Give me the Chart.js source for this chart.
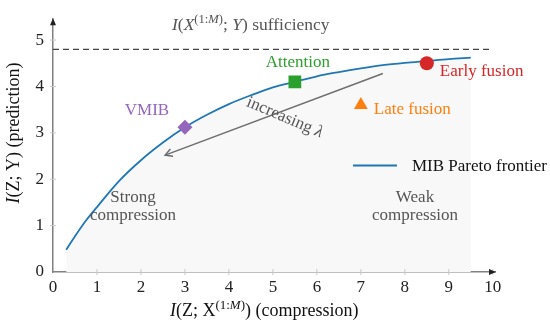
<!DOCTYPE html>
<html>
<head>
<meta charset="utf-8">
<script src="https://cdn.jsdelivr.net/npm/chart.js@4.4.1/dist/chart.umd.min.js"></script>
<style>
html,body{margin:0;padding:0;background:#fff;}
#wrap{width:550px;height:331px;}
</style>
</head>
<body>
<div id="wrap"><canvas id="c" width="550" height="331"></canvas></div>
<script>
// ---- data ----
const frontierX = [0.3,0.5,0.75,1,1.5,2,2.5,3,3.5,4,4.5,5,5.5,6,6.5,7,7.5,8,8.5,9,9.5];
const frontierY = [0.48,0.77,1.11,1.40,1.96,2.41,2.79,3.12,3.39,3.62,3.81,3.98,4.10,4.22,4.31,4.39,4.46,4.51,4.55,4.59,4.62];
const sufficiencyX = [0, 10];
const sufficiencyY = [4.8, 4.8];
const methodNames = ["VMIB", "Attention", "Early fusion", "Late fusion"];
const methodX = [3.0, 5.5, 8.5, 7.0];
const methodY = [3.12, 4.10, 4.50, 3.60];
const arrowX = [7.5, 2.55];
const arrowY = [4.28, 2.52];
const xTicks = [0,1,2,3,4,5,6,7,8,9,10];
const yTicks = [0,1,2,3,4,5];
const legendLabel = "MIB Pareto frontier";

const SERIF = '"Liberation Serif", "DejaVu Serif", serif';
const methodColors = ['#9467bd', '#2ca02c', '#d62728', '#ff7f0e'];
const methodStyles = ['rectRot', 'rect', 'circle', 'triangle'];
const methodRadius = [7.5, 9, 7, 8];

function drawRich(ctx, segs, x, y, size, color, align) {
  const parts = segs.map(s => {
    const fs = s.sup ? size * 0.72 : size;
    const font = (s.it ? 'italic ' : '') + fs + 'px ' + SERIF;
    ctx.font = font;
    return {t: s.t, font, w: ctx.measureText(s.t).width, dy: s.sup ? -size * 0.38 : 0};
  });
  const total = parts.reduce((a, p) => a + p.w, 0);
  let cx = align === 'center' ? x - total / 2 : x;
  ctx.fillStyle = color;
  ctx.textBaseline = 'alphabetic';
  ctx.textAlign = 'left';
  parts.forEach(p => { ctx.font = p.font; ctx.fillText(p.t, cx, y + p.dy); cx += p.w; });
}

const deco = {
  id: 'deco',
  afterDraw(chart) {
    const ctx = chart.ctx;
    const xs = chart.scales.x, ys = chart.scales.y;
    const a = chart.chartArea;
    ctx.save();
    // tick marks
    ctx.strokeStyle = '#c8c8c8'; ctx.lineWidth = 1;
    xTicks.forEach(v => { if (v === 0) return; const px = xs.getPixelForValue(v); ctx.beginPath(); ctx.moveTo(px, a.bottom - 3); ctx.lineTo(px, a.bottom + 3); ctx.stroke(); });
    yTicks.forEach(v => { if (v === 0) return; const py = ys.getPixelForValue(v); ctx.beginPath(); ctx.moveTo(a.left - 3, py); ctx.lineTo(a.left + 3, py); ctx.stroke(); });
    // axis arrowheads
    ctx.fillStyle = '#222';
    ctx.beginPath(); ctx.moveTo(a.left, a.top - 1); ctx.lineTo(a.left - 3, a.top + 6); ctx.lineTo(a.left + 3, a.top + 6); ctx.closePath(); ctx.fill();
    ctx.beginPath(); ctx.moveTo(a.right + 1, a.bottom); ctx.lineTo(a.right - 6, a.bottom - 3); ctx.lineTo(a.right - 6, a.bottom + 3); ctx.closePath(); ctx.fill();

    // increasing lambda arrow
    const x0 = xs.getPixelForValue(arrowX[0]), y0 = ys.getPixelForValue(arrowY[0]);
    const x1 = xs.getPixelForValue(arrowX[1]), y1 = ys.getPixelForValue(arrowY[1]);
    ctx.strokeStyle = '#6e6e6e'; ctx.lineWidth = 1.5;
    ctx.beginPath(); ctx.moveTo(x0, y0); ctx.lineTo(x1, y1); ctx.stroke();
    const ang = Math.atan2(y1 - y0, x1 - x0);
    ctx.beginPath();
    ctx.moveTo(x1 + 8 * Math.cos(ang + Math.PI - 0.5), y1 + 8 * Math.sin(ang + Math.PI - 0.5));
    ctx.lineTo(x1, y1);
    ctx.lineTo(x1 + 8 * Math.cos(ang + Math.PI + 0.5), y1 + 8 * Math.sin(ang + Math.PI + 0.5));
    ctx.stroke();
    ctx.save();
    ctx.translate(285, 117); ctx.rotate(23 * Math.PI / 180);
    drawRich(ctx, [{t: 'increasing '}, {t: 'λ', it: true}], 0, 5, 17, '#555', 'center');
    ctx.restore();

    // method labels
    const offs = [[-38, -12, 'center'], [3, -15, 'center'], [13, 13, 'left'], [13, 9, 'left']];
    methodNames.forEach((n, i) => {
      const px = xs.getPixelForValue(methodX[i]), py = ys.getPixelForValue(methodY[i]);
      ctx.font = '17px ' + SERIF; ctx.fillStyle = methodColors[i];
      ctx.textAlign = offs[i][2]; ctx.textBaseline = 'alphabetic';
      ctx.fillText(n, px + offs[i][0], py + offs[i][1]);
    });

    // region labels
    ctx.font = '17px ' + SERIF; ctx.fillStyle = '#555'; ctx.textAlign = 'center';
    ctx.fillText('Strong', 133, 202); ctx.fillText('compression', 133, 220);
    ctx.fillText('Weak', 415, 202); ctx.fillText('compression', 415, 220);

    // sufficiency label
    drawRich(ctx, [{t: 'I', it: true}, {t: '('}, {t: 'X', it: true}, {t: '(1:', sup: true}, {t: 'M', it: true, sup: true}, {t: ')', sup: true}, {t: '; '}, {t: 'Y', it: true}, {t: ') sufficiency'}], 172, 30, 17.5, '#555', 'left');

    // legend
    ctx.strokeStyle = '#1f77b4'; ctx.lineWidth = 1.8;
    ctx.beginPath(); ctx.moveTo(353, 165.5); ctx.lineTo(397, 165.5); ctx.stroke();
    ctx.font = '17px ' + SERIF; ctx.fillStyle = '#111'; ctx.textAlign = 'left';
    ctx.fillText(chart.data.datasets[0].label, 412, 171);

    // axis titles
    drawRich(ctx, [{t: 'I', it: true}, {t: '(Z; X'}, {t: '(1:', sup: true}, {t: 'M', it: true, sup: true}, {t: ')', sup: true}, {t: ') (compression)'}], 170, 316, 18, '#111', 'left');
    ctx.save();
    ctx.translate(19, 133); ctx.rotate(-Math.PI / 2);
    drawRich(ctx, [{t: 'I', it: true}, {t: '(Z; Y) (prediction)'}], 0, 0, 18, '#111', 'center');
    ctx.restore();
    ctx.restore();
  }
};

new Chart(document.getElementById('c'), {
  type: 'scatter',
  data: {
    datasets: [
      {
        label: legendLabel, type: 'line',
        data: frontierX.map((x, i) => ({x, y: frontierY[i]})),
        borderColor: '#1f77b4', borderWidth: 1.8, pointRadius: 0, tension: 0.4,
        cubicInterpolationMode: 'monotone',
        fill: 'origin', backgroundColor: '#f8f8f8', order: 3
      },
      {
        label: 'sufficiency', type: 'line',
        data: sufficiencyX.map((x, i) => ({x, y: sufficiencyY[i]})),
        borderColor: '#444', borderWidth: 1.2, borderDash: [6, 4], pointRadius: 0, fill: false, order: 2
      },
      {
        label: 'methods',
        data: methodX.map((x, i) => ({x, y: methodY[i]})),
        pointStyle: methodStyles, pointRadius: methodRadius,
        backgroundColor: methodColors, borderColor: methodColors, borderWidth: 0, order: 1
      }
    ]
  },
  options: {
    responsive: false, animation: false,
    layout: {padding: {left: 0, right: 55, top: 5, bottom: 0}},
    plugins: {legend: {display: false}, tooltip: {enabled: false}},
    scales: {
      x: {
        type: 'linear', min: 0, max: 10.05,
        afterFit: s => { s.height = 59; },
        afterBuildTicks: s => { s.ticks = xTicks.map(v => ({value: v})); },
        ticks: {stepSize: 1, includeBounds: false, padding: 5, color: '#222', font: {family: SERIF, size: 17}, maxRotation: 0},
        grid: {display: false, drawTicks: false},
        border: {display: true, color: '#808080', width: 1.5}
      },
      y: {
        type: 'linear', min: 0, max: 5.45,
        afterFit: s => { s.width = 53; },
        afterBuildTicks: s => { s.ticks = yTicks.map(v => ({value: v})); },
        ticks: {stepSize: 1, includeBounds: false, padding: 9, color: '#222', font: {family: SERIF, size: 17}},
        grid: {display: false, drawTicks: false},
        border: {display: true, color: '#808080', width: 1.5}
      }
    }
  },
  plugins: [deco]
});
</script>
</body>
</html>
